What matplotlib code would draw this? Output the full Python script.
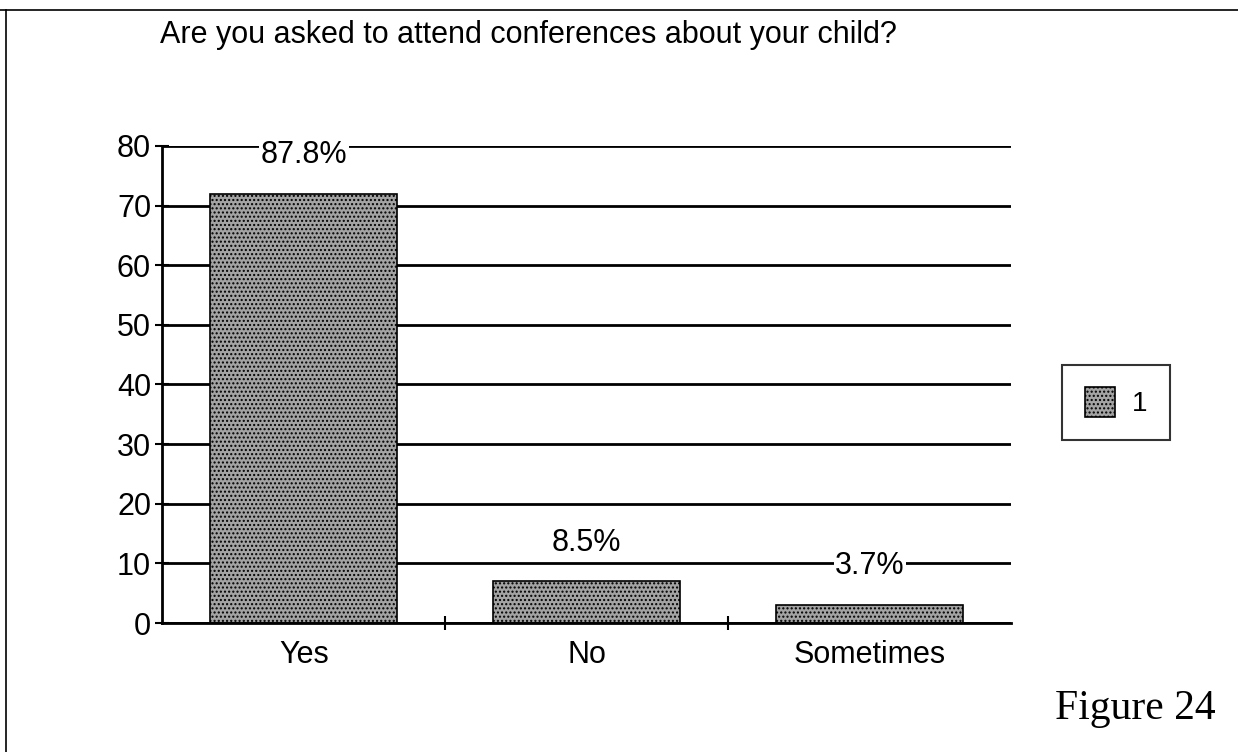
import matplotlib
matplotlib.use("Agg")
import matplotlib.pyplot as plt
from matplotlib.lines import Line2D

categories = ["Yes", "No", "Sometimes"]
counts = [72, 7, 3]
pct_labels = ["87.8%", "8.5%", "3.7%"]
y_ticks = [0, 10, 20, 30, 40, 50, 60, 70, 80]

plt.rcParams['font.family'] = ['Liberation Sans', 'DejaVu Sans']

fig = plt.figure(figsize=(12.38, 7.52), dpi=100)
ax = fig.add_axes([0.131, 0.1715, 0.686, 0.6345])

x = range(len(categories))
ax.set_axisbelow(True)
ax.yaxis.grid(True, color='black', linewidth=2)
bars = ax.bar(x, counts, width=0.66, color='#a3a3a3', edgecolor='black',
              linewidth=1.2, hatch='....', label='1')

for b, lab in zip(bars, pct_labels):
    ax.text(b.get_x() + b.get_width() / 2, b.get_height() + 6.5, lab,
            ha='center', va='center', fontsize=22,
            bbox=dict(facecolor='white', edgecolor='none', pad=1))

ax.set_xlim(-0.5, 2.5)
ax.set_ylim(0, 80)
ax.set_yticks(y_ticks)
ax.set_xticks([0.5, 1.5])
ax.set_xticks(list(x), minor=True)
ax.set_xticklabels([])
ax.set_xticklabels(categories, minor=True)
ax.tick_params(axis='x', which='minor', length=0, labelsize=22, pad=12)
ax.tick_params(axis='x', which='major', length=10, direction='inout', width=1.5)
ax.tick_params(axis='y', length=10, direction='inout', width=1.5, labelsize=22, pad=3)

for s in ['top', 'right']:
    ax.spines[s].set_visible(False)
ax.spines['left'].set_linewidth(2)
ax.spines['bottom'].set_linewidth(2)

fig.text(0.129, 0.953, "Are you asked to attend conferences about your child?",
         fontsize=22, ha='left', va='center')

leg = ax.legend(loc='center left', bbox_to_anchor=(1.06, 0.463), fontsize=20,
                frameon=True, fancybox=False, edgecolor='black',
                handlelength=1.1, handleheight=1.3, handletextpad=0.6,
                borderpad=0.8, borderaxespad=0)
leg.get_frame().set_linewidth(1.5)

fig.text(0.982, 0.058, "Figure 24", fontsize=30, family='Liberation Serif',
         ha='right', va='center')

# page border on top and left
fig.add_artist(Line2D([0.0, 1.0], [0.987, 0.987], color='black', linewidth=1.2,
                      transform=fig.transFigure))
fig.add_artist(Line2D([0.005, 0.005], [0.0, 0.987], color='black', linewidth=1.2,
                      transform=fig.transFigure))

fig.savefig('out.png', dpi=100)
